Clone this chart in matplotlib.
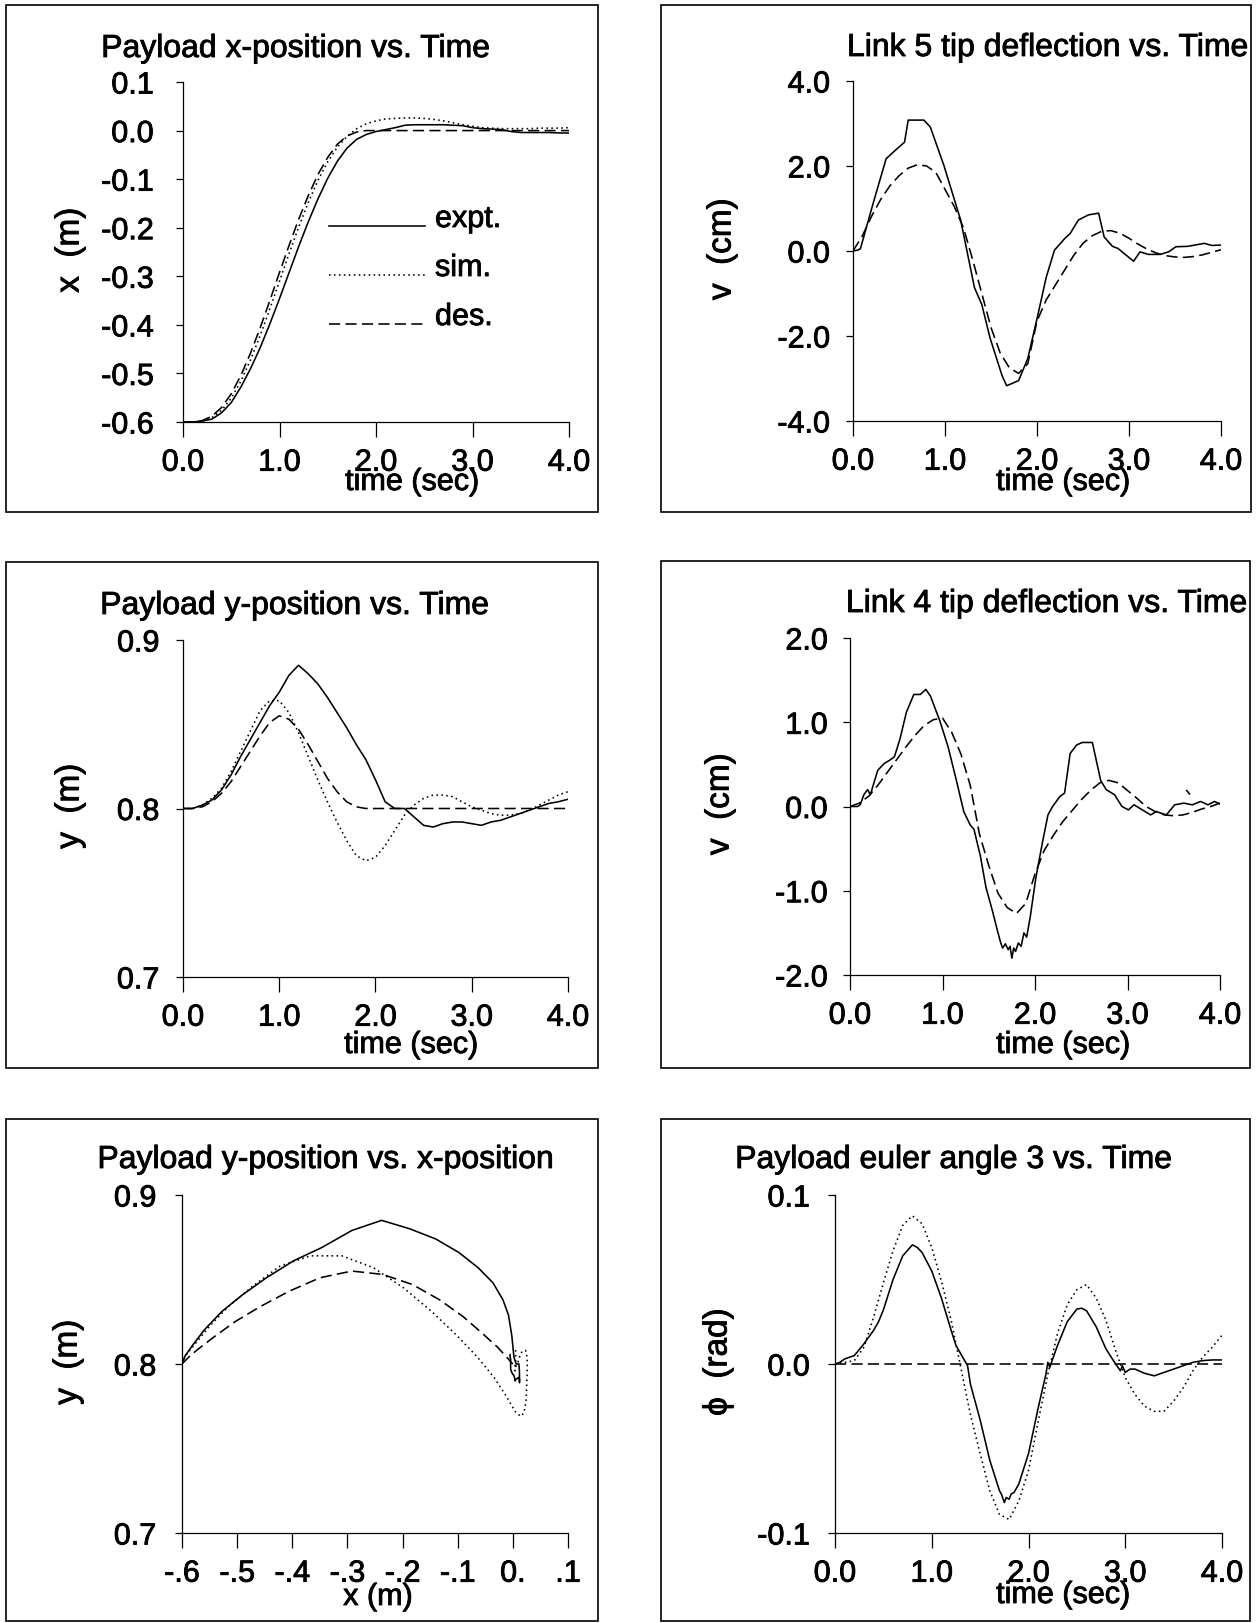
import numpy as np
import matplotlib.pyplot as plt
import matplotlib.patheffects as pe
from matplotlib.patches import Rectangle
from matplotlib.lines import Line2D

plt.rcParams['font.family'] = ['Liberation Sans', 'DejaVu Sans']

W, H = 1257, 1623

# ---- data ----
t = np.linspace(0.0, 4.0, 41)   # 0.1 s sampling used for the smooth traces

# payload x-position (m)
x_expt = [-0.600, -0.600, -0.598, -0.594, -0.581, -0.560, -0.528, -0.490, -0.447, -0.398,
          -0.346, -0.292, -0.238, -0.187, -0.140, -0.098, -0.063, -0.036, -0.018, -0.008,
          -0.002, 0.002, 0.006, 0.011, 0.012, 0.012, 0.012, 0.012, 0.011, 0.010,
          0.006, 0.004, 0.003, 0.002, -0.002, -0.004, -0.004, -0.004, -0.004, -0.005, -0.005]
x_sim = [-0.600, -0.600, -0.598, -0.591, -0.576, -0.551, -0.516, -0.472, -0.422, -0.367,
         -0.310, -0.253, -0.198, -0.147, -0.102, -0.064, -0.034, -0.012, 0.004, 0.014,
         0.020, 0.024, 0.025, 0.026, 0.026, 0.025, 0.023, 0.020, 0.016, 0.012,
         0.009, 0.006, 0.005, 0.004, 0.004, 0.004, 0.004, 0.005, 0.005, 0.005, 0.006]
x_des = [-0.600, -0.600, -0.597, -0.588, -0.570, -0.542, -0.504, -0.458, -0.406, -0.350,
         -0.292, -0.236, -0.182, -0.133, -0.090, -0.055, -0.028, -0.011, -0.003, 0.000,
         0.0, 0.0, 0.0, 0.0, 0.0, 0.0, 0.0, 0.0, 0.0, 0.0,
         0.0, 0.0, 0.0, 0.0, 0.0, 0.0, 0.0, 0.0, 0.0, 0.0, 0.0]

# payload y-position (m)
y_expt = [0.800, 0.800, 0.802, 0.805, 0.811, 0.820, 0.831, 0.841, 0.851, 0.861,
          0.869, 0.879, 0.885, 0.880, 0.874, 0.866, 0.857, 0.848, 0.838, 0.829,
          0.817, 0.804, 0.800, 0.800, 0.795, 0.790, 0.789, 0.791, 0.792, 0.792,
          0.791, 0.790, 0.792, 0.793, 0.795, 0.797, 0.799, 0.801, 0.803, 0.804, 0.8055]
y_sim = [0.800, 0.800, 0.802, 0.806, 0.812, 0.822, 0.834, 0.846, 0.858, 0.864,
         0.864, 0.857, 0.845, 0.831, 0.817, 0.804, 0.792, 0.781, 0.772, 0.769,
         0.771, 0.778, 0.787, 0.796, 0.802, 0.806, 0.808, 0.808, 0.807, 0.804,
         0.801, 0.799, 0.797, 0.796, 0.796, 0.797, 0.799, 0.802, 0.805, 0.808, 0.810]
y_des = [0.800, 0.800, 0.801, 0.804, 0.809, 0.816, 0.825, 0.834, 0.843, 0.851,
         0.855, 0.853, 0.847, 0.838, 0.828, 0.818, 0.810, 0.804, 0.801, 0.800,
         0.800, 0.800, 0.800, 0.800, 0.800, 0.800, 0.800, 0.800, 0.800, 0.800,
         0.800, 0.800, 0.800, 0.800, 0.800, 0.800, 0.800, 0.800, 0.800, 0.800, 0.800]

# link 5 tip deflection (cm)
t5_expt = [0.0, 0.05, 0.08, 0.22, 0.36, 0.45, 0.56, 0.60, 0.77, 0.84,
           0.99, 1.17, 1.32, 1.40, 1.49, 1.62, 1.67, 1.80, 1.90, 2.01,
           2.10, 2.19, 2.30, 2.36, 2.45, 2.56, 2.67, 2.73, 2.82, 2.88,
           3.05, 3.12, 3.21, 3.34, 3.43, 3.51, 3.64, 3.82, 3.90, 4.0]
v5_expt = [0.0, 0.02, 0.05, 1.13, 2.17, 2.35, 2.56, 3.08, 3.08, 2.92,
           2.0, 0.73, -0.86, -1.26, -2.05, -2.93, -3.17, -3.05, -2.53, -1.50,
           -0.62, 0.02, 0.29, 0.41, 0.73, 0.85, 0.89, 0.33, 0.11, 0.06,
           -0.24, -0.02, -0.08, -0.08, -0.02, 0.10, 0.11, 0.18, 0.13, 0.14]
v5_des = [0.0, 0.35, 0.81, 1.21, 1.53, 1.77, 1.95, 2.03, 2.0, 1.85,
          1.45, 1.05, 0.55, -0.2, -1.0, -1.8, -2.4, -2.75, -2.88, -2.65,
          -1.65, -1.15, -0.8, -0.45, -0.1, 0.18, 0.36, 0.46, 0.48, 0.42,
          0.30, 0.16, 0.04, -0.05, -0.11, -0.14, -0.15, -0.13, -0.09, -0.03, 0.03]

# link 4 tip deflection (cm)
t4_expt = [0.0, 0.08, 0.11, 0.15, 0.19, 0.22, 0.30, 0.37, 0.43, 0.48,
           0.54, 0.61, 0.69, 0.76, 0.82, 0.87, 0.97, 1.06, 1.15, 1.23,
           1.30, 1.34, 1.41, 1.47, 1.54, 1.60, 1.63, 1.65, 1.68, 1.71,
           1.73, 1.75, 1.77, 1.79, 1.82, 1.85, 1.88, 1.91, 1.95, 2.01,
           2.08, 2.14, 2.19, 2.27, 2.32, 2.38, 2.45, 2.51, 2.62, 2.71,
           2.77, 2.86, 2.94, 3.01, 3.07, 3.16, 3.25, 3.31, 3.42, 3.51,
           3.61, 3.70, 3.79, 3.87, 3.94, 4.0]
v4_expt = [0.0, 0.0, 0.02, 0.14, 0.2, 0.14, 0.43, 0.51, 0.55, 0.59,
           0.8, 1.12, 1.33, 1.33, 1.39, 1.31, 1.02, 0.71, 0.31, -0.06,
           -0.22, -0.27, -0.59, -0.96, -1.24, -1.50, -1.62, -1.68, -1.63, -1.70,
           -1.66, -1.80, -1.68, -1.72, -1.62, -1.66, -1.50, -1.55, -1.30, -0.84,
           -0.43, -0.10, 0.0, 0.12, 0.16, 0.63, 0.73, 0.76, 0.76, 0.31,
           0.2, 0.14, 0.0, -0.04, 0.02, -0.04, -0.10, -0.06, -0.10, 0.02,
           0.04, 0.02, 0.06, 0.02, 0.06, 0.03]
t4_blip = [3.64, 3.67]
v4_blip = [0.19, 0.15]
v4_des = [0.0, 0.04, 0.12, 0.25, 0.40, 0.55, 0.70, 0.84, 0.96, 1.03,
          1.05, 0.88, 0.62, 0.25, -0.33, -0.70, -1.03, -1.20, -1.27, -1.15,
          -0.80, -0.52, -0.34, -0.18, -0.05, 0.08, 0.19, 0.28, 0.31, 0.28,
          0.19, 0.10, 0.0, -0.06, -0.10, -0.11, -0.10, -0.07, -0.03, 0.0, 0.04]

# payload euler angle 3 (rad)
t6_expt = [0.0, 0.05, 0.1, 0.15, 0.2, 0.3, 0.4, 0.45, 0.5, 0.6,
           0.7, 0.8, 0.85, 0.9, 1.0, 1.1, 1.2, 1.25, 1.3, 1.33,
           1.35, 1.37, 1.4, 1.5, 1.6, 1.7, 1.72, 1.75, 1.77, 1.8,
           1.82, 1.85, 1.9, 2.0, 2.1, 2.18, 2.2, 2.22, 2.25, 2.3,
           2.4, 2.5, 2.55, 2.6, 2.7, 2.8, 2.9, 2.95, 2.97, 3.0,
           3.05, 3.1, 3.2, 3.3, 3.4, 3.5, 3.6, 3.7, 3.8, 3.9, 4.0]
phi_expt = [0.0, 0.001, 0.003, 0.004, 0.005, 0.012, 0.020, 0.025, 0.032, 0.050,
            0.064, 0.0705, 0.069, 0.066, 0.055, 0.039, 0.020, 0.011, 0.006, 0.003,
            0.001, -0.001, -0.012, -0.033, -0.057, -0.075, -0.077, -0.082, -0.079, -0.080,
            -0.077, -0.076, -0.071, -0.053, -0.026, -0.006, 0.001, -0.002, 0.003, 0.011,
            0.025, 0.0325, 0.033, 0.0315, 0.022, 0.009, 0.0, -0.004, -0.001, -0.005,
            -0.003, -0.003, -0.0055, -0.007, -0.005, -0.003, -0.001, 0.001, 0.002, 0.0024, 0.0024]
phi_sim = [0.0, 0.001, 0.002, 0.010, 0.028, 0.048, 0.067, 0.082, 0.0877, 0.083,
           0.069, 0.049, 0.026, -0.002, -0.030, -0.053, -0.075, -0.089, -0.092, -0.081,
           -0.063, -0.034, -0.006, 0.018, 0.035, 0.044, 0.047, 0.039, 0.026, 0.008,
           -0.008, -0.018, -0.025, -0.028, -0.028, -0.022, -0.014, -0.004, 0.004, 0.010, 0.017]
t6_des = [0.0, 4.0]
phi_des = [0.0, 0.0]

time_ticks = [0, 1, 2, 3, 4]
time_labels = ['0.0', '1.0', '2.0', '3.0', '4.0']
legend_labels = ['expt.', 'sim.', 'des.']

# ---- styling ----
SOLID = dict(color='black', lw=1.15, ls='-')
DOT = dict(color='black', lw=1.15, ls=(0, (1.0, 2.1)))
DASH = dict(color='black', lw=1.15, ls=(0, (7, 3.3)))
FS = 22
INK = [pe.withStroke(linewidth=0.6, foreground='black')]   # scanned print looks heavier

fig = plt.figure(figsize=(W / 100, H / 100), dpi=100)


def px_axes(l, r, t_, b):
    return fig.add_axes([l / W, 1 - b / H, (r - l) / W, (b - t_) / H])


def px_text(x, y, s, **kw):
    kw.setdefault('fontsize', FS)
    kw.setdefault('ha', 'center')
    kw.setdefault('va', 'baseline')
    fig.text(x / W, 1 - y / H, s, path_effects=INK, **kw)


def frame(l, r, t_, b):
    fig.add_artist(Rectangle((l / W, 1 - b / H), (r - l) / W, (b - t_) / H,
                             transform=fig.transFigure, fill=False, lw=1.2, ec='black'))


def style(ax, xlim, ylim, xt, xl, yt, yl, ypad):
    for s in ['top', 'right']:
        ax.spines[s].set_visible(False)
    for s in ['left', 'bottom']:
        ax.spines[s].set_linewidth(0.9)
    ax.set_xlim(*xlim)
    ax.set_ylim(*ylim)
    ax.set_xticks(xt, xl)
    ax.set_yticks(yt, yl)
    ax.tick_params(axis='x', length=11, width=0.9, pad=7.5, labelsize=FS)
    ax.tick_params(axis='y', length=5, width=0.9, pad=ypad, labelsize=FS)
    for lab in ax.get_xticklabels() + ax.get_yticklabels():
        lab.set_path_effects(INK)


# panel frames
frame(6, 598, 5, 512)
frame(661, 1251, 5, 512)
frame(6, 598, 562, 1068)
frame(661, 1250, 561, 1068)
frame(6, 598, 1119, 1621)
frame(661, 1250, 1119, 1621)

# 1: payload x-position
ax1 = px_axes(183, 569, 82, 422)
ax1.plot(t, x_expt, **SOLID)
ax1.plot(t, x_sim, **DOT)
ax1.plot(t, x_des, **DASH)
style(ax1, (0, 4), (-0.6, 0.1), time_ticks, time_labels,
      [0.1, 0.0, -0.1, -0.2, -0.3, -0.4, -0.5, -0.6],
      ['0.1', '0.0', '-0.1', '-0.2', '-0.3', '-0.4', '-0.5', '-0.6'], 16)
# key: sample line sits on the baseline of its label
for sty, lab, yk in zip([SOLID, DOT, DASH], legend_labels, [226, 275, 324]):
    fig.add_artist(Line2D([329 / W, 425 / W], [1 - yk / H, 1 - yk / H],
                          transform=fig.transFigure, **sty))
    px_text(435, yk + 1, lab, ha='left')
px_text(296, 57, 'Payload x-position vs. Time', fontsize=23)
px_text(412, 490, 'time (sec)')
px_text(70, 250, 'x  (m)', rotation=90, va='center', fontsize=24)

# 2: link 5 tip deflection
ax2 = px_axes(853, 1221, 81, 421)
ax2.plot(t5_expt, v5_expt, **SOLID)
ax2.plot(t, v5_des, **DASH)
style(ax2, (0, 4), (-4, 4), time_ticks, time_labels,
      [4, 2, 0, -2, -4], ['4.0', '2.0', '0.0', '-2.0', '-4.0'], 11.5)
px_text(1048, 56, 'Link 5 tip deflection vs. Time', fontsize=23)
px_text(1063, 490, 'time (sec)')
px_text(722, 249, 'v  (cm)', rotation=90, va='center', fontsize=24)

# 3: payload y-position
ax3 = px_axes(183, 568, 640, 977)
ax3.plot(t, y_expt, **SOLID)
ax3.plot(t, y_sim, **DOT)
ax3.plot(t, y_des, **DASH)
style(ax3, (0, 4), (0.7, 0.9), time_ticks, time_labels,
      [0.9, 0.8, 0.7], ['0.9', '0.8', '0.7'], 12)
px_text(295, 614, 'Payload y-position vs. Time', fontsize=23)
px_text(411, 1053, 'time (sec)')
px_text(70, 806, 'y  (m)', rotation=90, va='center', fontsize=24)

# 4: link 4 tip deflection
ax4 = px_axes(850, 1220, 638, 975)
ax4.plot(t4_expt, v4_expt, **SOLID)
ax4.plot(t4_blip, v4_blip, **SOLID)
ax4.plot(t, v4_des, **DASH)
style(ax4, (0, 4), (-2, 2), time_ticks, time_labels,
      [2, 1, 0, -1, -2], ['2.0', '1.0', '0.0', '-1.0', '-2.0'], 11)
px_text(1047, 612, 'Link 4 tip deflection vs. Time', fontsize=23)
px_text(1063, 1053, 'time (sec)')
px_text(720, 804, 'v  (cm)', rotation=90, va='center', fontsize=24)

# 5: payload y vs x (same records as panels 1 and 3)
ax5 = px_axes(182, 568, 1195, 1533)
ax5.plot(x_expt, y_expt, **SOLID)
ax5.plot(x_sim, y_sim, **DOT)
ax5.plot(x_des, y_des, **DASH)
style(ax5, (-0.6, 0.1), (0.7, 0.9),
      [-0.6, -0.5, -0.4, -0.3, -0.2, -0.1, 0.0, 0.1],
      ['-.6', '-.5', '-.4', '-.3', '-.2', '-.1', '0.', '.1'],
      [0.9, 0.8, 0.7], ['0.9', '0.8', '0.7'], 13.5)
px_text(326, 1168, 'Payload y-position vs. x-position', fontsize=23)
px_text(378, 1605, 'x (m)')
px_text(68, 1362, 'y  (m)', rotation=90, va='center', fontsize=24)

# 6: payload euler angle 3
ax6 = px_axes(835, 1222, 1195, 1533)
ax6.plot(t6_expt, phi_expt, **SOLID)
ax6.plot(t, phi_sim, **DOT)
ax6.plot(t6_des, phi_des, **DASH)
style(ax6, (0, 4), (-0.1, 0.1), time_ticks, time_labels,
      [0.1, 0.0, -0.1], ['0.1', '0.0', '-0.1'], 13)
px_text(954, 1168, 'Payload euler angle 3 vs. Time', fontsize=23)
px_text(1063, 1603, 'time (sec)')
px_text(718, 1362, '\u03d5  (rad)', rotation=90, va='center', fontsize=24)

fig.savefig('out.png', dpi=100)
